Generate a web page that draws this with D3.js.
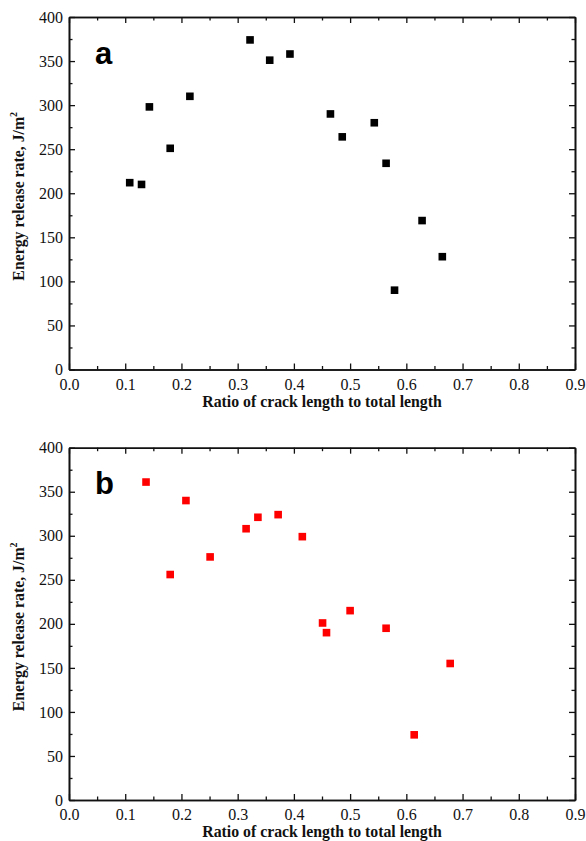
<!DOCTYPE html>
<html>
<head>
<meta charset="utf-8">
<script src="https://cdn.jsdelivr.net/npm/d3@7"></script>
<style>
  body { margin: 0; background: #fff; }
  .axis-title { font-family: "Liberation Serif", "Times New Roman", serif; font-weight: bold; font-size: 15.8px; fill: #111; }
  .panel-label { font-family: "Liberation Sans", Arial, sans-serif; font-weight: bold; font-size: 31px; fill: #000; }
</style>
</head>
<body>
<div id="chart"></div>
<script>
// panel a (black squares)
const ratioA = [0.108, 0.129, 0.143, 0.180, 0.215, 0.322, 0.357, 0.393, 0.465, 0.486, 0.543, 0.564, 0.628, 0.664, 0.579];
const energyA = [212, 210, 298, 251, 310, 374, 351, 358, 290, 264, 280, 234, 169, 128, 90];

// panel b (red squares)
const ratioB = [0.137, 0.180, 0.208, 0.251, 0.315, 0.336, 0.372, 0.415, 0.451, 0.458, 0.500, 0.564, 0.678, 0.614];
const energyB = [361, 256, 340, 276, 308, 321, 324, 299, 201, 190, 215, 195, 155, 74];

const xTicks = [0.0, 0.1, 0.2, 0.3, 0.4, 0.5, 0.6, 0.7, 0.8, 0.9];
const yTicks = [0, 50, 100, 150, 200, 250, 300, 350, 400];
const xMinor = [0.05, 0.15, 0.25, 0.35, 0.45, 0.55, 0.65, 0.75, 0.85];
const yMinor = [25, 75, 125, 175, 225, 275, 325, 375];

const W = 586, H = 841;
const serif = '"Liberation Serif", "Times New Roman", serif';

const svg = d3
  .select("#chart")
  .append("svg")
  .attr("width", W)
  .attr("height", H);

const panels = [
  { label: "a", xs: ratioA, ys: energyA, color: "#000000", top: 17, bottom: 369.5 },
  { label: "b", xs: ratioB, ys: energyB, color: "#ff0000", top: 447.7, bottom: 800 }
];

const left = 69, right = 575;
const major = 6, minor = 3.5;

panels.forEach((pn) => {
  const xScale = d3.scaleLinear().domain([0, 0.9]).range([left, right]);
  const yScale = d3.scaleLinear().domain([0, 400]).range([pn.bottom, pn.top]);

  const g = svg.append("g");

  // bottom axis with labels
  g.append("g")
    .attr("transform", "translate(0," + pn.bottom + ")")
    .call(d3.axisBottom(xScale).tickValues(xTicks).tickFormat(d3.format(".1f"))
      .tickSizeInner(-major).tickSizeOuter(0).tickPadding(9));
  g.append("g")
    .attr("transform", "translate(0," + pn.bottom + ")")
    .call(d3.axisBottom(xScale).tickValues(xMinor).tickFormat("")
      .tickSizeInner(-minor).tickSizeOuter(0));

  // top axis, ticks only
  g.append("g")
    .attr("transform", "translate(0," + pn.top + ")")
    .call(d3.axisTop(xScale).tickValues(xTicks).tickFormat("")
      .tickSizeInner(-major).tickSizeOuter(0));
  g.append("g")
    .attr("transform", "translate(0," + pn.top + ")")
    .call(d3.axisTop(xScale).tickValues(xMinor).tickFormat("")
      .tickSizeInner(-minor).tickSizeOuter(0));

  // left axis with labels
  g.append("g")
    .attr("transform", "translate(" + left + ",0)")
    .call(d3.axisLeft(yScale).tickValues(yTicks).tickFormat(d3.format("d"))
      .tickSizeInner(-major).tickSizeOuter(0).tickPadding(6));
  g.append("g")
    .attr("transform", "translate(" + left + ",0)")
    .call(d3.axisLeft(yScale).tickValues(yMinor).tickFormat("")
      .tickSizeInner(-minor).tickSizeOuter(0));

  // right axis, ticks only
  g.append("g")
    .attr("transform", "translate(" + right + ",0)")
    .call(d3.axisRight(yScale).tickValues(yTicks).tickFormat("")
      .tickSizeInner(-major).tickSizeOuter(0));
  g.append("g")
    .attr("transform", "translate(" + right + ",0)")
    .call(d3.axisRight(yScale).tickValues(yMinor).tickFormat("")
      .tickSizeInner(-minor).tickSizeOuter(0));

  g.selectAll(".domain").attr("stroke", "#111").attr("stroke-width", 1.6);
  g.selectAll(".tick line").attr("stroke", "#111").attr("stroke-width", 1.3);
  g.selectAll(".tick text")
    .style("font-family", serif)
    .style("font-size", "16px")
    .attr("fill", "#111");

  // squares
  const pts = pn.xs.map((x, i) => ({ x: x, y: pn.ys[i] }));
  const s = 7.6;
  g.selectAll("rect.pt")
    .data(pts)
    .enter()
    .append("rect")
    .attr("class", "pt")
    .attr("x", (d) => xScale(d.x) - s / 2)
    .attr("y", (d) => yScale(d.y) - s / 2)
    .attr("width", s)
    .attr("height", s)
    .attr("fill", pn.color);

  // panel letter
  g.append("text")
    .attr("class", "panel-label")
    .attr("x", 95)
    .attr("y", pn.top + (pn.label === "a" ? 47 : 46.5))
    .text(pn.label);

  // x title
  g.append("text")
    .attr("class", "axis-title")
    .attr("x", (left + right) / 2)
    .attr("y", pn.bottom + 37)
    .attr("text-anchor", "middle")
    .text("Ratio of crack length to total length");

  // y title
  const yt = g.append("text")
    .attr("class", "axis-title")
    .attr("transform", "translate(24," + ((pn.top + pn.bottom) / 2 + 3) + ") rotate(-90)")
    .attr("text-anchor", "middle");
  yt.append("tspan").text("Energy release rate, J/m");
  yt.append("tspan").attr("dy", -7).style("font-size", "10px").text("2");
});
</script>
</body>
</html>
